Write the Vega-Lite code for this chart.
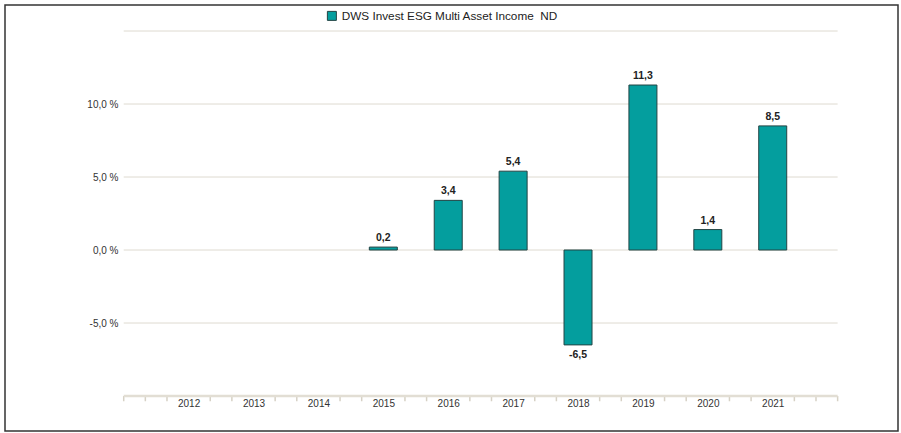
{
  "$schema": "https://vega.github.io/schema/vega-lite/v6.json",
  "width": 893,
  "height": 426,
  "autosize": {"type": "none"},
  "padding": {"left": 5, "top": 5, "right": 3, "bottom": 2},
  "background": "white",
  "config": {
    "locale": {"number": {"decimal": ",", "thousands": ".", "grouping": [3], "currency": ["", " €"], "minus": "-"}},
    "view": {"stroke": "#333333", "strokeWidth": 1.5},
    "font": "Liberation Sans"
  },
  "datasets": {
    "returns": [
      {"year": 2015, "value": 0.2, "series": "DWS Invest ESG Multi Asset Income\u00a0 ND"},
      {"year": 2016, "value": 3.4, "series": "DWS Invest ESG Multi Asset Income\u00a0 ND"},
      {"year": 2017, "value": 5.4, "series": "DWS Invest ESG Multi Asset Income\u00a0 ND"},
      {"year": 2018, "value": -6.5, "series": "DWS Invest ESG Multi Asset Income\u00a0 ND"},
      {"year": 2019, "value": 11.3, "series": "DWS Invest ESG Multi Asset Income\u00a0 ND"},
      {"year": 2020, "value": 1.4, "series": "DWS Invest ESG Multi Asset Income\u00a0 ND"},
      {"year": 2021, "value": 8.5, "series": "DWS Invest ESG Multi Asset Income\u00a0 ND"}
    ],
    "grid": [{"g": 15}, {"g": 10}, {"g": 5}, {"g": 0}, {"g": -5}],
    "baseline": [{"g": -10}],
    "ticks": [
      {"t": 2011}, {"t": 2011.3333}, {"t": 2011.6667},
      {"t": 2012.3333}, {"t": 2012.6667},
      {"t": 2013.3333}, {"t": 2013.6667},
      {"t": 2014.3333}, {"t": 2014.6667},
      {"t": 2015.3333}, {"t": 2015.6667},
      {"t": 2016.3333}, {"t": 2016.6667},
      {"t": 2017.3333}, {"t": 2017.6667},
      {"t": 2018.3333}, {"t": 2018.6667},
      {"t": 2019.3333}, {"t": 2019.6667},
      {"t": 2020.3333}, {"t": 2020.6667},
      {"t": 2021.3333}, {"t": 2021.6667},
      {"t": 2022}
    ]
  },
  "layer": [
    {
      "data": {"name": "grid"},
      "mark": {"type": "rule", "color": "#dedad0", "strokeWidth": 1},
      "encoding": {
        "x": {"datum": 2011, "type": "quantitative", "title": null, "scale": {"domain": [2009.2479, 2022.8532], "nice": false, "zero": false}},
        "x2": {"datum": 2022},
        "y": {"field": "g", "type": "quantitative", "title": null, "scale": {"domain": [-12.397, 16.781], "nice": false, "zero": false}}
      }
    },
    {
      "data": {"name": "ticks"},
      "mark": {"type": "rule", "color": "#d6d1c5", "strokeWidth": 1.5},
      "encoding": {
        "x": {"field": "t", "type": "quantitative", "title": null, "scale": {"domain": [2009.2479, 2022.8532], "nice": false, "zero": false}},
        "y": {"datum": -10, "type": "quantitative", "title": null, "scale": {"domain": [-12.397, 16.781], "nice": false, "zero": false}},
        "y2": {"datum": -10.36}
      }
    },
    {
      "data": {"name": "baseline"},
      "mark": {"type": "rule", "color": "#e2ded4", "strokeWidth": 2.5},
      "encoding": {
        "x": {"datum": 2011, "type": "quantitative", "title": null, "scale": {"domain": [2009.2479, 2022.8532], "nice": false, "zero": false}},
        "x2": {"datum": 2022},
        "y": {"field": "g", "type": "quantitative", "title": null, "scale": {"domain": [-12.397, 16.781], "nice": false, "zero": false}}
      }
    },
    {
      "data": {"name": "returns"},
      "mark": {"type": "bar", "orient": "vertical", "width": 28, "stroke": "#234444", "strokeWidth": 1},
      "encoding": {
        "x": {
          "field": "year", "type": "quantitative",
          "scale": {"domain": [2009.2479, 2022.8532], "nice": false, "zero": false},
          "axis": {
            "title": null, "orient": "bottom", "offset": -34, "domain": false, "grid": false, "ticks": false,
            "values": [2012, 2013, 2014, 2015, 2016, 2017, 2018, 2019, 2020, 2021],
            "format": "d",
            "labelOverlap": false, "labelFlush": false, "labelBound": false,
            "labelFontSize": 10, "labelColor": "#333333", "tickSize": 0, "labelPadding": 1
          }
        },
        "y": {
          "field": "value", "type": "quantitative", "stack": null,
          "scale": {"domain": [-12.397, 16.781], "nice": false, "zero": false},
          "axis": {
            "title": null, "orient": "left", "offset": -115, "domain": false, "grid": false, "ticks": false,
            "values": [-5, 0, 5, 10], "format": ".1f", "labelExpr": "datum.label + ' %'",
            "labelFontSize": 10, "labelColor": "#333333", "labelPadding": 2
          }
        },
        "color": {
          "field": "series", "type": "nominal",
          "scale": {"range": ["#049e9e"]},
          "legend": {
            "title": null, "orient": "none", "legendX": 321, "legendY": 5, "padding": 0,
            "symbolType": "square", "symbolSize": 81, "symbolStrokeColor": "#234444", "symbolStrokeWidth": 1,
            "labelFontSize": 11.75, "labelColor": "#222222", "labelOffset": 4, "labelLimit": 400
          }
        }
      }
    },
    {
      "data": {"name": "returns"},
      "transform": [{"filter": "datum.value >= 0"}],
      "mark": {"type": "text", "baseline": "bottom", "dy": -4, "fontSize": 10.5, "fontWeight": "bold", "color": "#222222"},
      "encoding": {
        "x": {"field": "year", "type": "quantitative", "title": null, "scale": {"domain": [2009.2479, 2022.8532], "nice": false, "zero": false}},
        "y": {"field": "value", "type": "quantitative", "title": null, "scale": {"domain": [-12.397, 16.781], "nice": false, "zero": false}},
        "text": {"field": "value", "type": "quantitative", "format": ".1f"}
      }
    },
    {
      "data": {"name": "returns"},
      "transform": [{"filter": "datum.value < 0"}],
      "mark": {"type": "text", "baseline": "top", "dy": 5, "fontSize": 10.5, "fontWeight": "bold", "color": "#222222"},
      "encoding": {
        "x": {"field": "year", "type": "quantitative", "title": null, "scale": {"domain": [2009.2479, 2022.8532], "nice": false, "zero": false}},
        "y": {"field": "value", "type": "quantitative", "title": null, "scale": {"domain": [-12.397, 16.781], "nice": false, "zero": false}},
        "text": {"field": "value", "type": "quantitative", "format": ".1f"}
      }
    }
  ]
}
